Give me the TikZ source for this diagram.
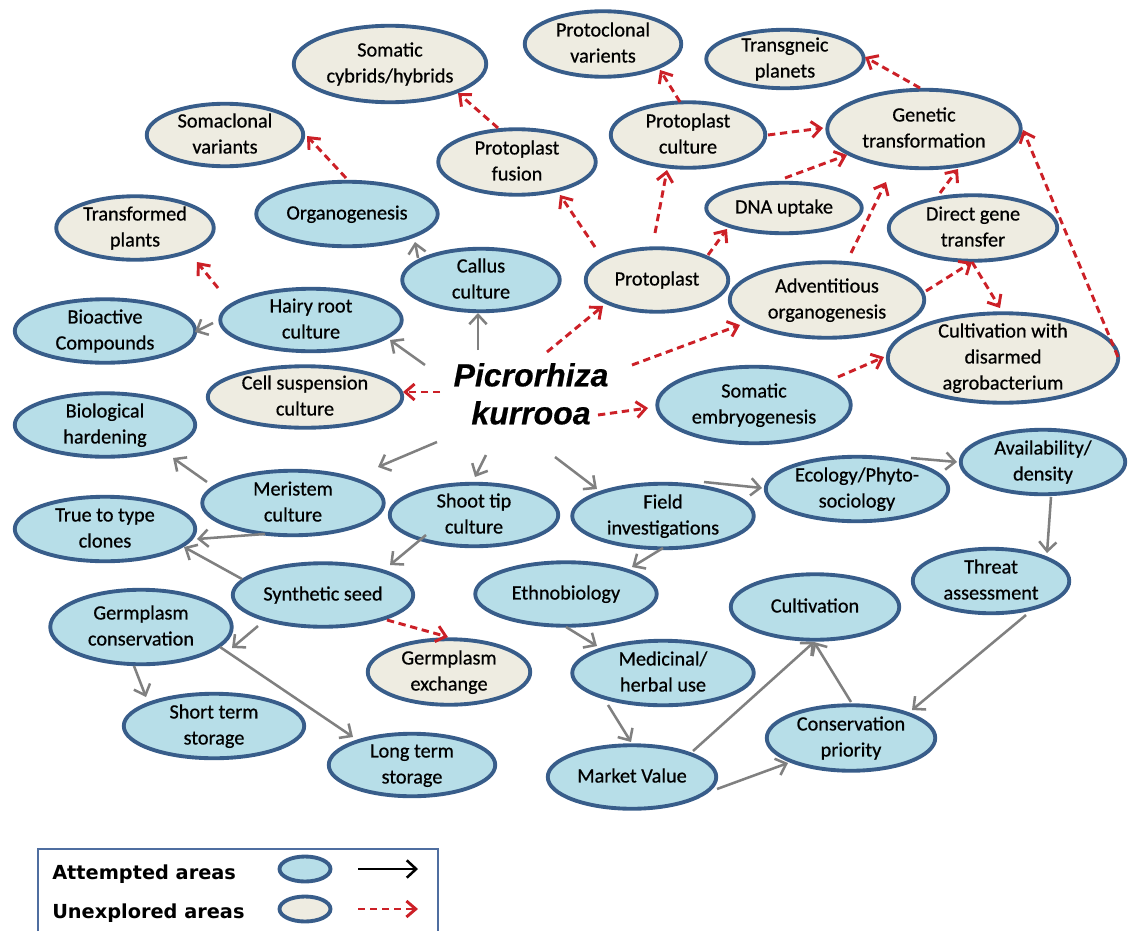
\documentclass[tikz,border=0pt]{standalone}
\usepackage{fontspec}
\setmainfont{Carlito}
\newfontfamily\nodefont{Carlito}[FakeBold=0.6]
\newfontfamily\pkfont{Liberation Sans}[BoldItalicFeatures={FakeBold=0.5}]
\newfontfamily\legfont{DejaVu Sans}
\usetikzlibrary{arrows.meta,calc,shapes.geometric}
\definecolor{eborder}{RGB}{56,93,138}
\definecolor{bluefill}{RGB}{183,222,232}
\definecolor{beigefill}{RGB}{238,236,225}
\definecolor{arrgray}{RGB}{128,128,128}
\definecolor{arrred}{RGB}{204,32,39}
\definecolor{legframe}{RGB}{79,110,160}
\newcommand\elltext[1]{\raisebox{-0.25em}[0pt][0pt]{\makebox[0pt]{\begin{tabular}{@{}c@{}}#1\end{tabular}}}}
\newcommand\ellnode[7]{\node[#2,minimum width={(#5-3.5)*0.75pt},minimum height={(#6-3.5)*0.75pt}] (#1) at (#3,#4) {\elltext{#7}};}
\tikzset{
  ellbase/.style={ellipse, draw=eborder, line width=2.9pt, inner sep=0pt, outer sep=0pt,
    font=\nodefont\fontsize{15.2}{19.5}\selectfont},
  att/.style={ellbase, fill=bluefill},
  unx/.style={ellbase, fill=beigefill},
  garrow/.style={draw=arrgray, line width=1.9pt, -{Straight Barb[length=7pt,width=13pt]}},
  rarrow/.style={draw=arrred, line width=2.2pt, dash pattern=on 5.5pt off 3.5pt,
    -{Straight Barb[length=7pt,width=12pt]}},
  legtext/.style={font=\legfont\bfseries\fontsize{14.5}{17}\selectfont, anchor=base west, inner sep=0pt},
}
\begin{document}
\begin{tikzpicture}[x=0.75pt,y=-0.75pt]
\useasboundingbox (0,0) rectangle (1137,931);
% ---- nodes ----
\ellnode{somcyb}{unx}{390}{64}{196}{80}{Somatic\\cybrids/hybrids}
\ellnode{protocl}{unx}{603}{44}{160}{69}{Protoclonal\\varients}
\ellnode{transg}{unx}{785}{59}{161}{62}{Transgneic\\planets}
\ellnode{somacl}{unx}{225}{135}{160}{66}{Somaclonal\\variants}
\ellnode{pfus}{unx}{517}{162}{161}{69}{Protoplast\\fusion}
\ellnode{pcult}{unx}{688}{135}{158}{69}{Protoplast\\culture}
\ellnode{gentr}{unx}{924}{129}{197}{82}{Genetic\\transformation}
\ellnode{trpl}{unx}{135}{228}{161}{67}{Transformed\\plants}
\ellnode{organo}{att}{347}{214}{185}{68}{Organogenesis}
\ellnode{dna}{unx}{784}{208}{159}{54}{DNA uptake}
\ellnode{dgt}{unx}{973}{228}{172}{69}{Direct gene\\transfer}
\ellnode{callus}{att}{481}{280}{161}{66}{Callus\\culture}
\ellnode{protopl}{unx}{657}{280}{146}{67}{Protoplast}
\ellnode{advorg}{unx}{827}{300}{198}{79}{Adventitious\\organogenesis}
\ellnode{bioact}{att}{105}{331}{184}{67}{Bioactive\\Compounds}
\ellnode{hairy}{att}{311}{320}{185}{66}{Hairy root\\culture}
\ellnode{cultag}{unx}{1003}{358}{234}{93}{Cultivation with\\disarmed\\agrobacterium}
\ellnode{cellsus}{unx}{305}{397}{198}{65}{Cell suspension\\culture}
\ellnode{somemb}{att}{754}{405}{197}{80}{Somatic\\embryogenesis}
\ellnode{biohard}{att}{105}{425}{184}{67}{Biological\\hardening}
\ellnode{ecol}{att}{857}{489}{186}{68}{Ecology/Phyto-\\sociology}
\ellnode{avail}{att}{1043}{462}{168}{68}{Availability/\\density}
\ellnode{meri}{att}{293}{503}{185}{68}{Meristem\\culture}
\ellnode{shoot}{att}{474}{515}{172}{66}{Shoot tip\\culture}
\ellnode{field}{att}{663}{516}{185}{68}{Field\\investigations}
\ellnode{ttt}{att}{105}{529}{184}{68}{True to type\\clones}
\ellnode{synth}{att}{323}{595}{184}{67}{Synthetic seed}
\ellnode{germc}{att}{141}{627}{185}{78}{Germplasm\\conservation}
\ellnode{ethno}{att}{566}{594}{185}{67}{Ethnobiology}
\ellnode{threat}{att}{991}{581}{160}{68}{Threat\\assessment}
\ellnode{cultiv}{att}{815}{607}{172}{69}{Cultivation}
\ellnode{germex}{unx}{449}{672}{166}{69}{Germplasm\\exchange}
\ellnode{medic}{att}{663}{673}{185}{68}{Medicinal/\\herbal use}
\ellnode{short}{att}{214}{726}{184}{68}{Short term\\storage}
\ellnode{consp}{att}{851}{738}{172}{69}{Conservation\\priority}
\ellnode{long}{att}{412}{765}{170}{66}{Long term\\storage}
\ellnode{market}{att}{632}{777}{172}{67}{Market Value}
\node[font=\pkfont\bfseries\itshape\fontsize{24}{28.5}\selectfont, inner sep=0pt] (pk) at (531,398) {\elltext{Picrorhiza\\kurrooa}};
% ---- unexplored (red dashed) ----
\draw[rarrow] ($(pfus)+(-19,-34)$) -- ($(somcyb)+(68,29)$);
\draw[rarrow] ($(organo)+(-1,-36)$) -- ($(somacl)+(82,1)$);
\draw[rarrow] ($(hairy)+(-93,-32)$) -- ($(trpl)+(62,34)$);
\draw[rarrow] ($(protopl)+(-62,-33)$) -- ($(pfus)+(43,33)$);
\draw[rarrow] ($(protopl)+(-2,-47)$) -- ($(pcult)+(-21,35)$);
\draw[rarrow] ($(protopl)+(51,-25)$) -- ($(dna)+(-57,21)$);
\draw[rarrow] ($(pcult)+(-8,-33)$) -- ($(protocl)+(57,26)$);
\draw[rarrow] ($(pcult)+(80,0)$) -- ($(gentr)+(-101,-1)$);
\draw[rarrow] ($(dna)+(1,-30)$) -- ($(gentr)+(-77,26)$);
\draw[rarrow] ($(advorg)+(24,-47)$) -- ($(gentr)+(-38,53)$);
\draw[rarrow] ($(dgt)+(-33,-35)$) -- ($(gentr)+(34,40)$);
\draw[rarrow] ($(advorg)+(99,-9)$) -- ($(dgt)+(-1,34)$);
\draw[rarrow] ($(dgt)+(-1,34)$) -- ($(cultag)+(-3,-50)$);
\draw[rarrow] ($(cultag)+(115,-1)$) -- ($(gentr)+(99,1)$);
\draw[rarrow] ($(somemb)+(84,-28)$) -- ($(cultag)+(-119,-1)$);
\draw[rarrow] ($(gentr)+(-4,-41)$) -- ($(transg)+(80,-2)$);
\draw[rarrow] ($(synth)+(64,25)$) -- ($(germex)+(-1,-35)$);
\draw[rarrow] ($(pk)+(-91,-6)$) -- ($(cellsus)+(98,-5)$);
\draw[rarrow] ($(pk)+(16,-46)$) -- ($(protopl)+(-54,26)$);
\draw[rarrow] ($(pk)+(101,-33)$) -- ($(advorg)+(-87,25)$);
\draw[rarrow] ($(pk)+(67,17)$) -- ($(somemb)+(-106,3)$);
% ---- attempted (gray) ----
\draw[garrow] ($(pk)+(-53,-48)$) -- ($(callus)+(-3,33)$);
\draw[garrow] ($(pk)+(-106,-33)$) -- ($(hairy)+(79,20)$);
\draw[garrow] ($(pk)+(-94,44)$) -- ($(meri)+(85,-36)$);
\draw[garrow] ($(pk)+(-45,57)$) -- ($(shoot)+(1,-38)$);
\draw[garrow] ($(pk)+(24,59)$) -- ($(field)+(-66,-27)$);
\draw[garrow] ($(callus)+(-63,-22)$) -- ($(organo)+(68,28)$);
\draw[garrow] ($(hairy)+(-98,3)$) -- ($(bioact)+(90,1)$);
\draw[garrow] ($(meri)+(-86,-21)$) -- ($(biohard)+(68,33)$);
\draw[garrow] ($(meri)+(-28,31)$) -- ($(ttt)+(92,10)$);
\draw[garrow] ($(synth)+(-81,-16)$) -- ($(ttt)+(79,18)$);
\draw[garrow] ($(shoot)+(-48,20)$) -- ($(synth)+(67,-30)$);
\draw[garrow] ($(synth)+(-65,31)$) -- ($(germc)+(91,21)$);
\draw[garrow] ($(germc)+(-7,39)$) -- ($(short)+(-68,-29)$);
\draw[garrow] ($(germc)+(79,20)$) -- ($(long)+(-59,-28)$);
\draw[garrow] ($(field)+(41,-34)$) -- ($(ecol)+(-95,-1)$);
\draw[garrow] ($(ecol)+(54,-31)$) -- ($(avail)+(-86,0)$);
\draw[garrow] ($(avail)+(8,35)$) -- ($(threat)+(56,-28)$);
\draw[garrow] ($(threat)+(35,34)$) -- ($(consp)+(61,-28)$);
\draw[garrow] ($(field)+(0,32)$) -- ($(ethno)+(66,-27)$);
\draw[garrow] ($(ethno)+(0,33)$) -- ($(medic)+(-66,-27)$);
\draw[garrow] ($(medic)+(-55,32)$) -- ($(market)+(-1,-35)$);
\draw[garrow] ($(market)+(61,-26)$) -- ($(cultiv)+(-1,35)$);
\draw[garrow] ($(market)+(85,12)$) -- ($(consp)+(-63,25)$);
\draw[garrow] ($(consp)+(0,-36)$) -- ($(cultiv)+(-1,35)$);
% ---- legend ----
\draw[draw=legframe, line width=0.9pt] (38,931) -- (38,849) -- (438,849) -- (438,931);
\node[legtext] (legt1) at (52,879) {Attempted areas};
\node[legtext] (legt2) at (52,918) {Unexplored areas};
\node[att, minimum width={51*0.75pt}, minimum height={25*0.75pt}] (lege1) at (305,869) {};
\node[unx, minimum width={51*0.75pt}, minimum height={25*0.75pt}] (lege2) at (305,909) {};
\coordinate (la1s) at (358,869);
\coordinate (la1e) at (418,869);
\coordinate (la2s) at (358,909);
\coordinate (la2e) at (418,909);
\draw[draw=black, line width=1.9pt, -{Straight Barb[length=7pt,width=13pt]}] (la1s) -- (la1e);
\draw[rarrow] (la2s) -- (la2e);
\end{tikzpicture}
\end{document}
